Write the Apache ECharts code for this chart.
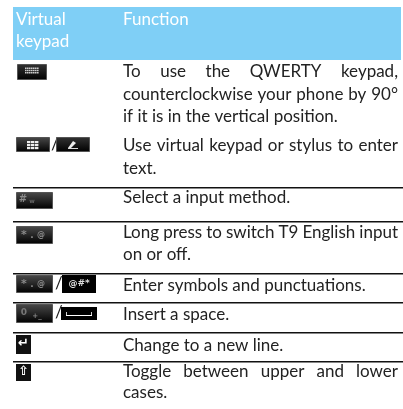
<!DOCTYPE html>
<html>
<head>
<meta charset="utf-8">
<style>html,body{margin:0;padding:0;background:#fff}#main{width:403px;height:409px}</style>
<script src="https://cdn.jsdelivr.net/npm/echarts@6/dist/echarts.min.js"></script>
</head>
<body>
<div id="main"></div>
<script>
var headLeft = ['Virtual', 'keypad'];
var headRight = ['Function'];
// text lines: [text, center y, justified]
var lines = [
  ['To use the QWERTY keypad,', 72, true],
  ['counterclockwise your phone by 90°', 95, true],
  ['if it is in the vertical position.', 117, false],
  ['Use virtual keypad or stylus to enter', 146, true],
  ['text.', 169, false],
  ['Select a input method.', 198, false],
  ['Long press to switch T9 English input', 233, true],
  ['on or off.', 255, false],
  ['Enter symbols and punctuations.', 286, false],
  ['Insert a space.', 315, false],
  ['Change to a new line.', 346, false],
  ['Toggle between upper and lower', 372, true],
  ['cases.', 393, false]
];
var rules = [187, 221, 273, 302, 332, 361];

var FONT = 'Lato';
var SIZE = 17;
var app = echarts.init(document.getElementById('main'), null, {renderer: 'canvas'});
var els = [];
var ctx = document.createElement('canvas').getContext('2d');
ctx.font = SIZE + 'px ' + FONT;

function txt(s, x, y, fill, size, weight) {
  els.push({type: 'text', x: x, y: y, silent: true, style: {
    text: s, fill: fill, font: (weight || 'normal') + ' ' + (size || SIZE) + 'px ' + FONT,
    textAlign: 'left', textVerticalAlign: 'middle'
  }});
}
function rect(x, y, w, h, fill, stroke) {
  els.push({type: 'rect', silent: true, shape: {x: x, y: y, width: w, height: h}, style: {fill: fill, stroke: stroke || null}});
}
function grad(c0, c1) {
  return new echarts.graphic.LinearGradient(0, 0, 0, 1, [{offset: 0, color: c0}, {offset: 1, color: c1}]);
}
function key(x, y, w, h, c0) {
  rect(x + 0.5, y + 0.5, w - 1, h - 1, grad(c0 || '#4a4a4a', '#000'), '#555');
}
function glyph(s, x, y, size, fill) {
  els.push({type: 'text', x: x, y: y, silent: true, style: {
    text: s, fill: fill || '#8a8a8a', font: 'bold ' + size + 'px "DejaVu Sans"',
    textAlign: 'center', textVerticalAlign: 'middle'
  }});
}

// header band
rect(13, 7, 388, 53, '#7fcff6');
txt(headLeft[0], 16, 20, '#fff');
txt(headLeft[1], 16, 42, '#fff');
txt(headRight[0], 123, 20, '#fff');

// rules
rules.forEach(function (y) { rect(13, y, 390, 1.5, '#111'); });

// body text, justified lines get their words spread out
var LEFT = 123, RIGHT = 398;
lines.forEach(function (l) {
  if (!l[2]) { txt(l[0], LEFT, l[1], '#222'); return; }
  var words = l[0].split(' ');
  var total = 0;
  words.forEach(function (w) { total += ctx.measureText(w).width; });
  var gap = (RIGHT - LEFT - total) / (words.length - 1);
  var x = LEFT;
  words.forEach(function (w) {
    txt(w, x, l[1], '#222');
    x += ctx.measureText(w).width + gap;
  });
});

// keys
key(17, 64, 30, 16, '#333');
for (var r = 0; r < 3; r++) {
  for (var c = 0; c < 7; c++) rect(25 + c * 2, 67.5 + r * 2.2, 1.6, 1.6, '#ccc');
}
key(16, 137, 34, 15);
for (var r2 = 0; r2 < 3; r2++) {
  for (var c2 = 0; c2 < 3; c2++) rect(27 + c2 * 4, 141 + r2 * 3, 3.4, 2.2, '#eee');
}
txt('/', 51, 145, '#222', 17);
key(56, 137, 34, 15, '#333');
els.push({type: 'polygon', silent: true, shape: {points: [[68, 148], [73, 141], [76, 143], [71, 148]]}, style: {fill: '#eee'}});
rect(68, 148, 10, 1, '#ddd');

key(16, 192, 37, 17);
glyph('#', 23, 199, 10);
glyph('w', 32, 201, 6, '#666');
key(16, 226, 37, 18);
glyph('*', 24, 235, 11);
glyph('.', 32, 236, 9);
glyph('@', 41, 235, 8);

key(16, 275, 37, 18);
glyph('*', 24, 284, 11);
glyph('.', 32, 285, 9);
glyph('@', 41, 284, 8);
txt('/', 55, 284, '#222', 17);
rect(62, 275, 34, 18, '#000');
glyph('@#*', 79, 284, 9, '#ddd');

key(16, 304, 37, 19);
glyph('0', 24, 313, 9, '#777');
glyph('+_', 37, 316, 7, '#888');
txt('/', 55, 313, '#222', 17);
rect(61, 307, 36, 13, '#000');
rect(66, 315, 26, 1, '#fff');
rect(66, 312, 1, 3, '#ccc');
rect(91, 312, 1, 3, '#ccc');

rect(16, 335, 15, 19, '#111');
glyph('↵', 23.5, 344, 13, '#fff');
rect(16, 364, 15, 17, '#111');
glyph('⇧', 23.5, 372, 13, '#fff');

app.setOption({animation: false, graphic: {elements: els}});
</script>
</body>
</html>
